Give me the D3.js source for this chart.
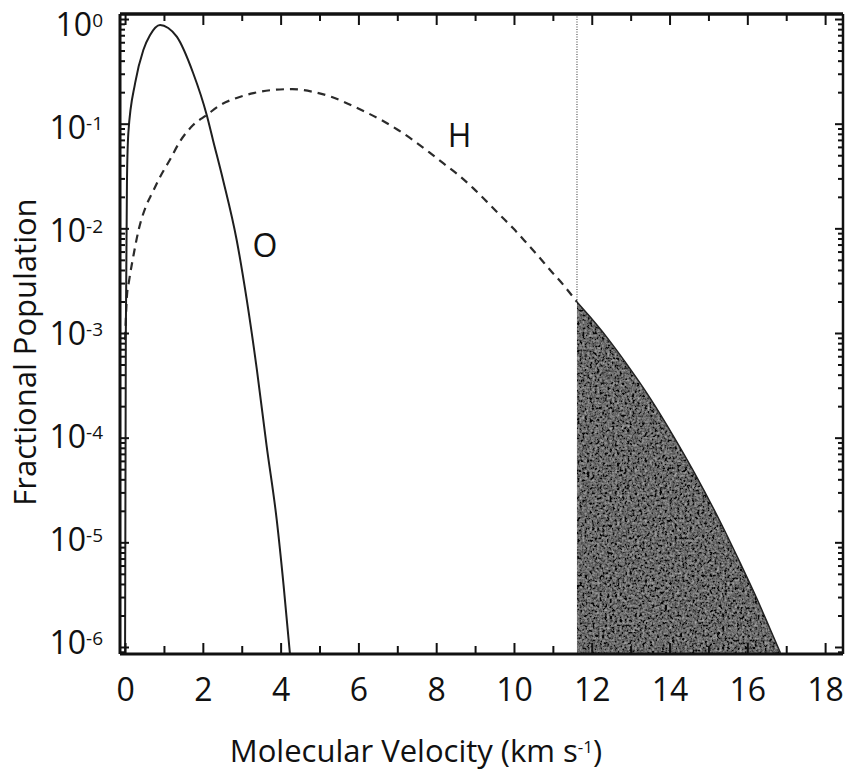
<!DOCTYPE html>
<html>
<head>
<meta charset="utf-8">
<script src="https://cdn.jsdelivr.net/npm/d3@7"></script>
<style>
  html, body { margin: 0; padding: 0; background: #fff; }
  svg { display: block; }
  text { font-family: "Open Sans", "Noto Sans", sans-serif; fill: #111; }
</style>
</head>
<body>
<div id="chart"></div>
<script>
// ---------- data ----------
const xMajorTicks = [0, 2, 4, 6, 8, 10, 12, 14, 16, 18];
const xMinorTicks = [1, 3, 5, 7, 9, 11, 13, 15, 17];
const yDecadeExponents = [0, -1, -2, -3, -4, -5, -6];

// O (solid) : velocity km/s
const oVelocity = [0.00, 0.02, 0.05, 0.085, 0.26, 0.47, 0.64, 0.90, 1.11, 1.33, 1.75, 2.10, 2.26, 2.52, 2.87, 3.13, 3.39, 3.64, 3.90, 4.075, 4.24];
const oPopulation = [8.5e-7, 1.0e-3, 0.030, 0.082, 0.245, 0.506, 0.70, 0.877, 0.82, 0.678, 0.305, 0.121, 0.070, 0.029, 7.74e-3, 2.07e-3, 4.45e-4, 8.35e-5, 1.64e-5, 3.93e-6, 8.6e-7];

// H (dashed)
const hVelocity = [0.00, 0.05, 0.10, 0.22, 0.35, 0.55, 0.70, 0.90, 1.15, 1.42, 1.75, 2.10, 2.45, 2.87, 3.30, 3.80, 4.30, 4.85, 5.30, 5.70, 6.17, 6.60, 7.02, 7.40, 7.80, 8.18, 8.57, 8.95, 9.30, 9.64, 9.98, 10.33, 10.63, 10.93, 11.27, 11.62, 11.95, 12.39, 12.90, 13.50, 14.11, 14.63, 15.30, 15.81, 16.25, 16.58, 16.85];
const hPopulation = [8.6e-4, 2.3e-3, 3.1e-3, 5.6e-3, 9.7e-3, 0.0167, 0.0218, 0.031, 0.045, 0.0684, 0.097, 0.121, 0.151, 0.176, 0.196, 0.210, 0.214, 0.201, 0.181, 0.157, 0.130, 0.108, 0.0871, 0.0699, 0.054, 0.0419, 0.0324, 0.0242, 0.018, 0.0134, 0.0100, 0.0072, 0.0054, 0.0040, 0.00288, 0.00198, 1.435e-3, 9.08e-4, 5.04e-4, 2.39e-4, 1.02e-4, 4.69e-5, 1.58e-5, 6.43e-6, 2.87e-6, 1.50e-6, 8.8e-7];

const escapeVelocity = 11.62;
const seriesLabels = [{ name: "H", v: 8.6, p: 0.077 }, { name: "O", v: 3.6, p: 0.0068 }];

// ---------- layout ----------
const W = 845, Hgt = 771;
const pL = 120, pR = 843, pT = 14, pB = 654;

const svg = d3.select("#chart").append("svg").attr("width", W).attr("height", Hgt);

const x = d3.scaleLinear().domain([-0.13, 18.46]).range([pL, pR]);
const y = d3.scaleLog().domain([Math.pow(10, -6.067), Math.pow(10, 0.048)]).range([pB, pT]);
// the printed decade labels are spaced slightly tighter than the ticks in the reference
const yLabelPos = d3.scaleLinear().domain([0, -6]).range([25, 643]);

const defs = svg.append("defs");
defs.append("clipPath").attr("id", "plotclip").append("rect")
  .attr("x", pL).attr("y", pT).attr("width", pR - pL).attr("height", pB - pT);

const f = defs.append("filter").attr("id", "grain")
  .attr("x", "0%").attr("y", "0%").attr("width", "100%").attr("height", "100%");
f.append("feTurbulence").attr("type", "fractalNoise").attr("baseFrequency", "0.4")
  .attr("numOctaves", 3).attr("seed", 5).attr("result", "noise");
f.append("feColorMatrix").attr("in", "noise").attr("type", "matrix")
  .attr("values", "0.33 0.33 0.33 0 0  0.33 0.33 0.33 0 0  0.33 0.33 0.33 0 0  0 0 0 0 1")
  .attr("result", "gray");
const ct = f.append("feComponentTransfer").attr("in", "gray").attr("result", "mapped");
["feFuncR", "feFuncG", "feFuncB"].forEach(n => ct.append(n).attr("type", "linear").attr("slope", 1.5).attr("intercept", -0.58));
f.append("feComposite").attr("in", "mapped").attr("in2", "SourceGraphic").attr("operator", "in");

const hData = hVelocity.map((v, i) => ({ v, p: hPopulation[i] }));
const oData = oVelocity.map((v, i) => ({ v, p: oPopulation[i] }));

const plot = svg.append("g").attr("clip-path", "url(#plotclip)");

// shaded escape region
const shadeData = hData.filter(d => d.v >= escapeVelocity);
const area = d3.area().x(d => x(d.v)).y0(pB).y1(d => y(d.p)).curve(d3.curveMonotoneX);
plot.append("path").datum(shadeData).attr("d", area).attr("fill", "#3a3a3a");
plot.append("path").datum(shadeData).attr("d", area).attr("fill", "#3a3a3a").attr("filter", "url(#grain)").attr("opacity", 0.85);
plot.append("path").datum(shadeData)
  .attr("d", d3.line().x(d => x(d.v)).y(d => y(d.p)).curve(d3.curveMonotoneX))
  .attr("fill", "none").attr("stroke", "#222").attr("stroke-width", 1.5);

// vertical dotted line at escape velocity
const hEsc = hData.find(d => d.v === escapeVelocity).p;
plot.append("line")
  .attr("x1", x(escapeVelocity)).attr("x2", x(escapeVelocity))
  .attr("y1", pT).attr("y2", y(hEsc))
  .attr("stroke", "#555").attr("stroke-width", 1.2).attr("stroke-dasharray", "1,1.5");

// curves
const line = d3.line().x(d => x(d.v)).y(d => y(d.p)).curve(d3.curveMonotoneX);
plot.append("path").datum(hData.filter(d => d.v <= escapeVelocity)).attr("d", line)
  .attr("fill", "none").attr("stroke", "#2b2b2b").attr("stroke-width", 2.2).attr("stroke-dasharray", "8,6");
plot.append("path").datum(oData).attr("d", line)
  .attr("fill", "none").attr("stroke", "#1e1e1e").attr("stroke-width", 2);

// ---------- axes ----------
function styleAxis(g) {
  g.select(".domain").remove();
  g.selectAll(".tick line").attr("stroke", "#111").attr("stroke-width", 2);
}
// bottom
svg.append("g").attr("transform", `translate(0,${pB})`)
  .call(d3.axisBottom(x).tickValues(xMajorTicks).tickSizeInner(-11).tickSizeOuter(0).tickPadding(24).tickFormat(d3.format("d")))
  .call(styleAxis)
  .call(g => g.selectAll(".tick").filter(d => x(d) > pR).select("line").remove())
  .call(g => g.selectAll(".tick text").attr("font-size", 32).attr("font-family", "'Open Sans', sans-serif").attr("fill", "#111"));
svg.append("g").attr("transform", `translate(0,${pB})`)
  .call(d3.axisBottom(x).tickValues(xMinorTicks).tickSizeInner(-8).tickSizeOuter(0).tickFormat(""))
  .call(styleAxis);
// top
svg.append("g").attr("transform", `translate(0,${pT})`)
  .call(d3.axisTop(x).tickValues(xMajorTicks.filter(v => x(v) <= pR)).tickSizeInner(-11).tickSizeOuter(0).tickFormat(""))
  .call(styleAxis);
svg.append("g").attr("transform", `translate(0,${pT})`)
  .call(d3.axisTop(x).tickValues(xMinorTicks).tickSizeInner(-7).tickSizeOuter(0).tickFormat(""))
  .call(styleAxis);

const yMajor = yDecadeExponents.map(e => Math.pow(10, e));
const yMinor = [];
yDecadeExponents.forEach(e => { for (let k = 2; k <= 9; k++) { const v = k * Math.pow(10, e - 1); if (v >= y.domain()[0] && v <= y.domain()[1]) yMinor.push(v); } });

// left
const yAx = svg.append("g").attr("transform", `translate(${pL},0)`)
  .call(d3.axisLeft(y).tickValues(yMajor).tickSizeInner(-9).tickSizeOuter(0).tickPadding(17).tickFormat(() => "10"))
  .call(styleAxis);
yAx.selectAll(".tick text").attr("font-size", 32).attr("font-family", "'Open Sans', sans-serif").attr("fill", "#111")
  .each(function (d) {
    const e = Math.round(Math.log10(d));
    d3.select(this).attr("y", yLabelPos(e) - y(d));
    d3.select(this).append("tspan").attr("dy", -9).attr("font-size", 19).text(String(e));
  });
svg.append("g").attr("transform", `translate(${pL},0)`)
  .call(d3.axisLeft(y).tickValues(yMinor).tickSizeInner(-5).tickSizeOuter(0).tickFormat(""))
  .call(styleAxis);
// right
svg.append("g").attr("transform", `translate(${pR},0)`)
  .call(d3.axisRight(y).tickValues(yMajor).tickSizeInner(-8).tickSizeOuter(0).tickFormat(""))
  .call(styleAxis);
svg.append("g").attr("transform", `translate(${pR},0)`)
  .call(d3.axisRight(y).tickValues(yMinor).tickSizeInner(-5).tickSizeOuter(0).tickFormat(""))
  .call(styleAxis);

// frame
svg.append("line").attr("x1", pL).attr("x2", pR).attr("y1", pB).attr("y2", pB).attr("stroke", "#111").attr("stroke-width", 3);
svg.append("line").attr("x1", pL).attr("x2", pR).attr("y1", pT).attr("y2", pT).attr("stroke", "#111").attr("stroke-width", 3.5);
svg.append("line").attr("x1", pL).attr("x2", pL).attr("y1", pT).attr("y2", pB).attr("stroke", "#111").attr("stroke-width", 3);
svg.append("line").attr("x1", pR).attr("x2", pR).attr("y1", pT).attr("y2", pB).attr("stroke", "#111").attr("stroke-width", 2.5);

// series labels
svg.selectAll("text.series").data(seriesLabels).join("text").attr("class", "series")
  .attr("x", d => x(d.v)).attr("y", d => y(d.p)).attr("text-anchor", "middle")
  .attr("dy", "0.36em").attr("font-size", 32).text(d => d.name);

// axis titles
const xt = svg.append("text").attr("x", 416).attr("y", 762).attr("text-anchor", "middle").attr("font-size", 31)
  .text("Molecular Velocity (km s");
xt.append("tspan").attr("dy", -9).attr("font-size", 17).text("-1");
xt.append("tspan").attr("dy", 9).text(")");

svg.append("text").attr("transform", "translate(36,352) rotate(-90)").attr("text-anchor", "middle")
  .attr("font-size", 31).text("Fractional Population");
</script>
</body>
</html>
